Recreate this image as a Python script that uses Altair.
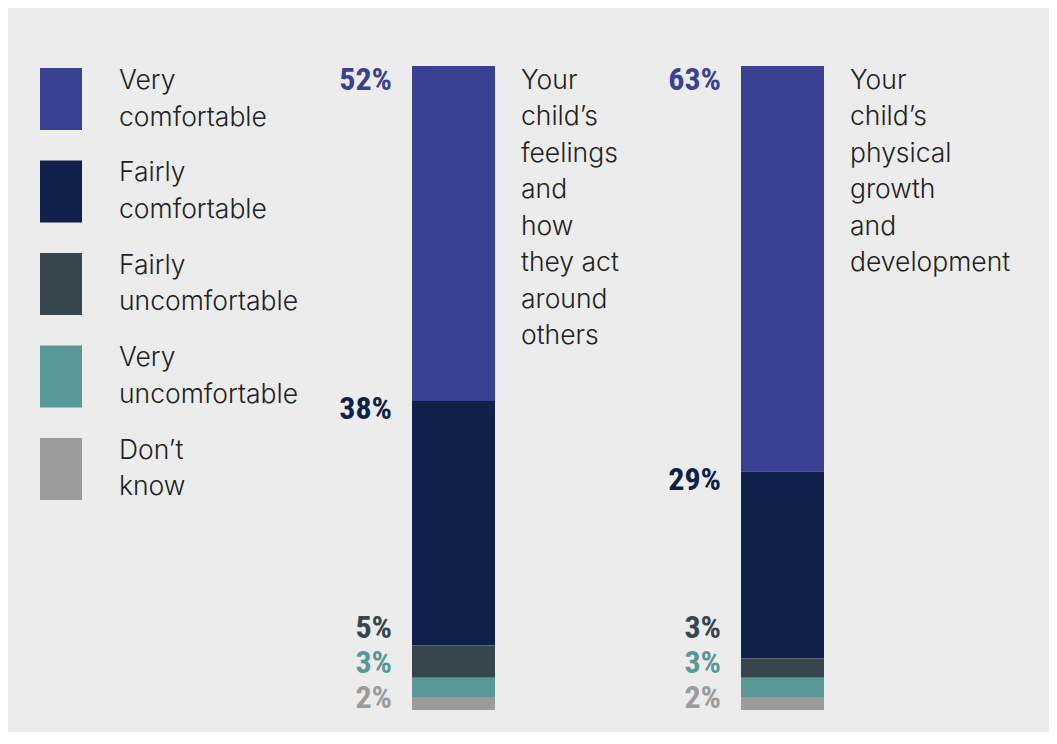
import altair as alt
import pandas as pd

# ---- data ----
categories = ["Very comfortable", "Fairly comfortable", "Fairly uncomfortable",
              "Very uncomfortable", "Don’t know"]
legend_labels = ["Very|comfortable", "Fairly|comfortable", "Fairly|uncomfortable",
                 "Very|uncomfortable", "Don’t|know"]
colors = ["#3b4192", "#0f214a", "#37464e", "#5a9897", "#9b9b9b"]

questions = ["Your child’s feelings and how they act around others",
             "Your child’s physical growth and development"]
question_labels = ["Your|child’s|feelings|and|how|they act|around|others",
                   "Your|child’s|physical|growth|and|development"]
feelings = [52, 38, 5, 3, 2]
physical = [63, 29, 3, 3, 2]
series = [feelings, physical]

# ---- layout constants ----
W = 1041
H = 644
PPU = H / 100.0  # pixels per percentage point
TEXT_FONT = "Inter, Open Sans, sans-serif"
NUM_FONT = "Roboto Condensed, Roboto, Liberation Sans"
TEXT_COLOR = "#222222"

rows = []
for q, vals in zip(questions, series):
    top = 100.0
    for rank, (cat, v) in enumerate(zip(categories, vals)):
        bottom = top - v
        if rank == 0:
            ly = top - 14 / PPU
        elif rank == 1:
            ly = top - 8 / PPU
        else:
            ly = (12 + 35 * (len(vals) - 1 - rank)) / PPU
        rows.append({"question": q, "category": cat, "value": v,
                     "top": top, "bottom": bottom, "label_y": ly})
        top = bottom
df = pd.DataFrame(rows)

df_q = pd.DataFrame({"question": questions, "label": question_labels,
                     "total": [sum(s) for s in series]})
df_leg = pd.DataFrame({"category": categories, "label": legend_labels})

color_scale = alt.Scale(domain=categories, range=colors)
x_scale = alt.Scale(type="band", domain=questions, range=[404, 816],
                    paddingInner=0.7477, paddingOuter=0)
y_scale = alt.Scale(domain=[0, 100], nice=False, zero=False)
leg_scale = alt.Scale(type="band", domain=categories, range=[2, 434],
                      paddingInner=0.3297, paddingOuter=0)

legend_rect = alt.Chart(df_leg).mark_rect().encode(
    y=alt.Y("category:N", scale=leg_scale, axis=None, sort=categories),
    x=alt.value(32),
    x2=alt.value(74),
    color=alt.Color("category:N", scale=color_scale, legend=None),
)

legend_text = alt.Chart(df_leg).transform_calculate(
    lines="split(datum.label, '|')"
).mark_text(align="left", baseline="top", font=TEXT_FONT, fontSize=26.5, fontWeight=300,
            lineHeight=36.5, color=TEXT_COLOR, dy=0).encode(
    y=alt.Y("category:N", scale=leg_scale, axis=None, bandPosition=0, sort=categories),
    x=alt.value(111),
    text=alt.Text("lines:N"),
)

bars = alt.Chart(df).mark_bar().encode(
    x=alt.X("question:N", scale=x_scale, axis=None, sort=questions),
    y=alt.Y("top:Q", scale=y_scale, axis=None),
    y2="bottom:Q",
    color=alt.Color("category:N", scale=color_scale, legend=None),
)

pct = alt.Chart(df).transform_calculate(
    pct="datum.value + '%'"
).mark_text(align="right", baseline="middle", font=NUM_FONT, fontSize=32,
            fontWeight="bold", dx=-20).encode(
    x=alt.X("question:N", scale=x_scale, axis=None, bandPosition=0, sort=questions),
    y=alt.Y("label_y:Q", scale=y_scale, axis=None),
    text=alt.Text("pct:N"),
    color=alt.Color("category:N", scale=color_scale, legend=None),
)

qtext = alt.Chart(df_q).transform_calculate(
    lines="split(datum.label, '|')"
).mark_text(align="left", baseline="top", font=TEXT_FONT, fontSize=26.5, fontWeight=300,
            lineHeight=36.5, color=TEXT_COLOR, dx=26, dy=1.5).encode(
    x=alt.X("question:N", scale=x_scale, axis=None, bandPosition=1, sort=questions),
    y=alt.Y("total:Q", scale=y_scale, axis=None),
    text=alt.Text("lines:N"),
)

chart = alt.layer(legend_rect, legend_text, bars, pct, qtext).resolve_scale(
    x="independent", y="independent"
).properties(
    width=W, height=H,
    autosize=alt.AutoSizeParams(type="none"),
    padding={"left": 0, "top": 58, "right": 0, "bottom": 22},
).configure(background="#ececec").configure_view(stroke="transparent", strokeWidth=0)

chart.save("out.html", embed_options={"renderer": "svg", "actions": False})
